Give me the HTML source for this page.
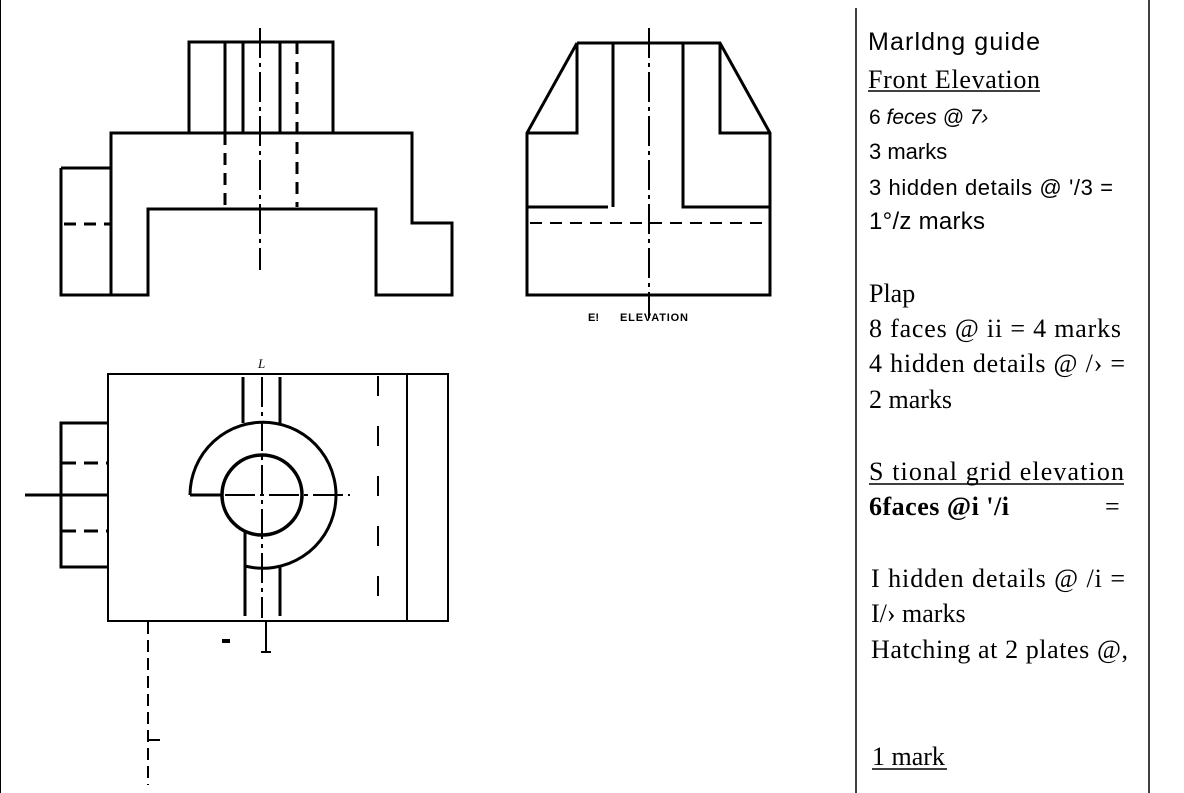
<!DOCTYPE html>
<html><head><meta charset="utf-8"><style>
html,body{margin:0;padding:0;background:#fff;}
svg{display:block;}
.s{font-family:"Liberation Sans",sans-serif;fill:#000;}
.r{font-family:"Liberation Serif",serif;fill:#000;}
</style></head><body>
<svg width="1184" height="793" viewBox="0 0 1184 793" xmlns="http://www.w3.org/2000/svg" font-size="26">
<g stroke="#000" fill="none" stroke-width="3">
<rect x="189" y="42" width="144" height="91"/>
<line x1="225" y1="42" x2="225" y2="133"/>
<line x1="243" y1="42" x2="243" y2="133"/>
<line x1="280" y1="42" x2="280" y2="133"/>
<polyline points="61,168 111,168 111,133 412,133 412,223 452,223 452,295 376,295 376,209 148,209 148,295 61,295 61,168"/>
<line x1="111" y1="168" x2="111" y2="295"/>
<g stroke-dasharray="12,8">
<line x1="297" y1="42" x2="297" y2="207"/>
<line x1="225" y1="133" x2="225" y2="207"/>
<line x1="64" y1="224" x2="110" y2="224"/>
</g>
<line x1="260" y1="28" x2="260" y2="270" stroke-width="2" stroke-dasharray="30,5,4,5"/>
<polyline points="577,43 720,43 770,133 770,295 527,295 527,133 577,43"/>
<polyline points="577,43 577,133 527,133"/>
<polyline points="720,43 720,133 770,133"/>
<polyline points="527,207 608,207"/>
<polyline points="613,43 613,207"/>
<polyline points="683,43 683,207 770,207"/>
<line x1="530" y1="223" x2="768" y2="223" stroke-width="2" stroke-dasharray="12,8"/>
<line x1="649" y1="28" x2="649" y2="318" stroke-width="2" stroke-dasharray="30,5,4,5"/>
<rect x="108" y="374" width="340" height="247" stroke-width="2"/>
<line x1="407" y1="374" x2="407" y2="621" stroke-width="2"/>
<line x1="378" y1="376" x2="378" y2="600" stroke-width="2" stroke-dasharray="20,30"/>
<polyline points="108,423 61,423 61,567 108,567"/>
<line x1="25" y1="495" x2="108" y2="495"/>
<g stroke-dasharray="14,8"><line x1="62" y1="463" x2="108" y2="463"/><line x1="62" y1="531" x2="108" y2="531"/></g>
<path d="M190,495 A73,73 0 1 1 245,566"/>
<line x1="190" y1="495" x2="222" y2="495"/>
<circle cx="262" cy="495" r="40" stroke-width="3.5"/>
<line x1="243" y1="377" x2="243" y2="423"/>
<line x1="280" y1="377" x2="280" y2="423"/>
<line x1="245" y1="530" x2="245" y2="616"/>
<line x1="280" y1="566" x2="280" y2="616"/>
<line x1="262" y1="377" x2="262" y2="618" stroke-width="2" stroke-dasharray="30,5,4,5"/>
<line x1="225" y1="495" x2="350" y2="495" stroke-width="2" stroke-dasharray="30,5,4,5"/>
<line x1="148" y1="622" x2="148" y2="785" stroke-width="2" stroke-dasharray="12,6"/>
<line x1="148" y1="740" x2="160" y2="740" stroke-width="2"/>
<line x1="222" y1="641" x2="230" y2="641" stroke-width="4"/>
<line x1="266" y1="620" x2="266" y2="652" stroke-width="2"/>
<line x1="261" y1="652" x2="271" y2="652" stroke-width="2"/>
<line x1="856" y1="8" x2="856" y2="793" stroke-width="1.5"/>
<line x1="1149" y1="0" x2="1149" y2="793" stroke-width="1.5"/>
<line x1="0.5" y1="0" x2="0.5" y2="793" stroke-width="1"/>
</g>
<text x="258" y="368" style="font-family:'Liberation Serif',serif;font-style:italic;font-size:13px">L</text>
<text x="588" y="321" style="font-family:'Liberation Sans',sans-serif;font-weight:bold;font-size:11px">E!</text>
<text x="620" y="321" style="font-family:'Liberation Sans',sans-serif;font-weight:bold;font-size:11px" textLength="68">ELEVATION</text>
<text class="s" x="868" y="50" style="font-size:25px" textLength="172">Marldng guide</text>
<text class="r" x="868" y="88" textLength="172">Front Elevation</text>
<line x1="868" y1="91" x2="1040" y2="91" stroke="#000" stroke-width="1.5"/>
<text class="s" x="869" y="124" style="font-size:21px">6 <tspan font-style="italic">feces @ 7›</tspan></text>
<text class="s" x="869" y="159" style="font-size:22px">3 marks</text>
<text class="s" x="869" y="195" style="font-size:22px" textLength="244">3 hidden details @ '/3 =</text>
<text class="s" x="869" y="229" style="font-size:24px" textLength="116">1°/z marks</text>
<text class="r" x="869" y="302">Plap</text>
<text class="r" x="869" y="337" textLength="252">8 faces @ ii = 4 marks</text>
<text class="r" x="869" y="372" textLength="256">4 hidden details @ /› =</text>
<text class="r" x="869" y="408">2 marks</text>
<text class="r" x="869" y="480" textLength="255">S tional grid elevation</text>
<line x1="869" y1="484" x2="1124" y2="484" stroke="#000" stroke-width="1.5"/>
<text class="r" x="869" y="515" font-weight="bold" textLength="140">6faces @i '/i</text>
<text class="r" x="1105" y="515">=</text>
<text class="r" x="871" y="587" textLength="254">I hidden details @ /i =</text>
<text class="r" x="871" y="622">I/› marks</text>
<text class="r" x="871" y="658" textLength="257">Hatching at 2 plates @,</text>
<text class="r" x="872" y="765">1 mark</text>
<line x1="872" y1="769" x2="947" y2="769" stroke="#000" stroke-width="1.5"/>
</svg>
</body></html>
